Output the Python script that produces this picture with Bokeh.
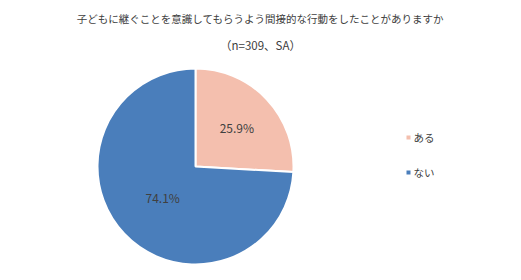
import math
from bokeh.plotting import figure
from bokeh.models import Range1d, ColumnDataSource
from bokeh.core.properties import value
from bokeh.embed import file_html
from bokeh.resources import INLINE

title_lines = ["子どもに継ぐことを意識してもらうよう間接的な行動をしたことがありますか", "（n=309、SA）"]
categories = ["ある", "ない"]
values = [25.9, 74.1]
colors = ["#F4BFAE", "#4A7EBB"]

W, H = 521, 280
FONT = value("Noto Sans CJK JP")
p = figure(width=W, height=H, output_backend="svg", toolbar_location=None,
           x_range=Range1d(0, W), y_range=Range1d(0, H), min_border=0)
p.axis.visible = False
p.grid.visible = False
p.outline_line_color = None
p.background_fill_color = "white"
p.border_fill_color = "white"

cx, cy, r = 195, H - 166, 98
total = sum(values)
starts, ends, lx, ly, labels = [], [], [], [], []
cum = 0.0
fracs = [0.58, 0.46]
for i, v in enumerate(values):
    a0 = math.pi / 2 - 2 * math.pi * (cum + v) / total
    a1 = math.pi / 2 - 2 * math.pi * cum / total
    starts.append(a0)
    ends.append(a1)
    mid = (a0 + a1) / 2
    lx.append(cx + fracs[i] * r * math.cos(mid))
    ly.append(cy + fracs[i] * r * math.sin(mid))
    labels.append(f"{v:.1f}%")
    cum += v

src = ColumnDataSource(dict(start=starts, end=ends, color=colors, cat=categories))
p.wedge(x=cx, y=cy, radius=r, start_angle="start", end_angle="end",
        fill_color="color", line_color="white", line_width=2, source=src)

p.text(x=lx, y=ly, text=labels, text_align="center", text_baseline="middle",
       text_font=FONT, text_font_size="12px", text_color="#404040")

# title
p.text(x=[260, 260], y=[H - 18, H - 44], text=title_lines, text_align="center",
       text_baseline="middle", text_font=FONT, text_font_size=["10.5px", "11.5px"],
       text_color="#404040")

# legend
leg_y = [H - 137, H - 172]
p.rect(x=[408] * 2, y=leg_y, width=4, height=4, fill_color=colors, line_color=None)
p.text(x=[413] * 2, y=leg_y, text=categories, text_align="left", text_baseline="middle",
       text_font=FONT, text_font_size="10.5px", text_color="#404040")

open("out.html", "w").write(file_html(p, INLINE))
